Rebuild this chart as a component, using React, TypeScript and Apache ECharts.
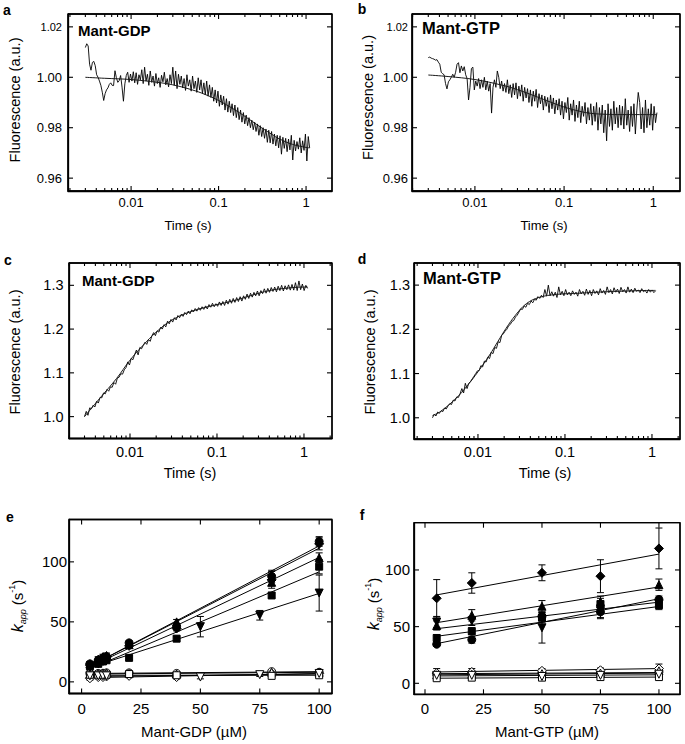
import React, { useEffect, useRef } from "react";
import * as echarts from "echarts";

const FONT = "'Liberation Sans', Arial, Helvetica, sans-serif";

// ---------- stopped-flow traces (a-d) ----------
const T_START = 0.003;
const T_END = 1.1;

const A_RAW = [
  1.0118, 1.0133, 1.0124, 1.0052, 1.0028, 1.0059, 1.0063, 1.0046, 1.0010, 1.0000,
  0.9985, 0.9968, 0.9941, 0.9908, 0.9935, 0.9950, 0.9958, 0.9972, 0.9978, 0.9968,
  0.9967, 1.0026, 0.9998, 0.9980, 0.9987, 1.0007, 0.9961, 0.9905, 0.9974, 1.0007,
  1.0020, 0.9980, 1.0013, 0.9985, 1.0022, 0.9978, 1.0018, 0.9972, 1.0010, 0.9990,
  1.0030, 0.9975, 1.0040, 0.9985, 1.0012, 0.9968, 1.0025, 0.9980, 1.0005, 0.9965,
  1.0015, 0.9975, 0.9998, 0.9960, 1.0008, 0.9982, 1.0020, 0.9970, 0.9995, 0.9962,
  1.0010, 0.9975, 1.0040, 0.9968, 1.0025, 0.9955, 1.0012, 0.9972, 1.0005, 0.9958,
  0.9995, 0.9948, 1.0010, 0.9965, 0.9990, 0.9945, 1.0005, 0.9955, 0.9985, 0.9940,
  0.9998, 0.9950, 0.9990, 0.9935, 0.9978, 0.9930, 0.9985, 0.9925, 0.9970, 0.9920,
  0.9960, 0.9905, 0.9950, 0.9898, 0.9945, 0.9885, 0.9930, 0.9890, 0.9925, 0.9870,
  0.9915, 0.9862, 0.9905, 0.9860, 0.9895, 0.9848, 0.9890, 0.9840, 0.9880, 0.9832,
  0.9870, 0.9822, 0.9860, 0.9815, 0.9850, 0.9808, 0.9840, 0.9800, 0.9830, 0.9792,
  0.9822, 0.9785, 0.9815, 0.9770, 0.9808, 0.9765, 0.9800, 0.9758, 0.9795, 0.9742,
  0.9790, 0.9740, 0.9785, 0.9735, 0.9775, 0.9728, 0.9770, 0.9720, 0.9768, 0.9695,
  0.9762, 0.9718, 0.9758, 0.9705, 0.9755, 0.9712, 0.9770, 0.9672, 0.9750, 0.9708,
  0.9745, 0.9715, 0.9760, 0.9700, 0.9748, 0.9710, 0.9775, 0.9668, 0.9765, 0.9720,
];

const B_RAW = [
  1.0078, 1.0080, 1.0076, 1.0074, 1.0072, 1.0068, 1.0070, 1.0060, 1.0052, 1.0020,
  1.0014, 1.0010, 0.9975, 0.9954, 0.9982, 0.9990, 1.0000, 1.0012, 1.0000, 1.0020,
  1.0052, 1.0058, 1.0018, 1.0045, 1.0025, 1.0042, 1.0010, 0.9995, 0.9910, 0.9960,
  1.0035, 1.0040, 0.9950, 0.9985, 0.9965, 0.9995, 0.9955, 0.9990, 0.9960, 1.0000,
  0.9950, 0.9985, 0.9945, 0.9975, 0.9858, 0.9960, 0.9990, 0.9960, 1.0025, 1.0000,
  0.9955, 0.9985, 0.9945, 0.9975, 0.9940, 0.9990, 0.9935, 0.9970, 0.9920, 0.9975,
  0.9930, 0.9978, 0.9915, 0.9965, 0.9925, 0.9970, 0.9905, 0.9960, 0.9918, 0.9955,
  0.9900, 0.9950, 0.9885, 0.9945, 0.9905, 0.9952, 0.9880, 0.9935, 0.9895, 0.9930,
  0.9870, 0.9925, 0.9885, 0.9920, 0.9860, 0.9930, 0.9875, 0.9918, 0.9855, 0.9910,
  0.9870, 0.9915, 0.9850, 0.9905, 0.9835, 0.9900, 0.9860, 0.9920, 0.9830, 0.9895,
  0.9850, 0.9910, 0.9825, 0.9890, 0.9840, 0.9905, 0.9820, 0.9885, 0.9845, 0.9900,
  0.9815, 0.9880, 0.9830, 0.9895, 0.9810, 0.9885, 0.9825, 0.9900, 0.9790, 0.9880,
  0.9815, 0.9890, 0.9780, 0.9870, 0.9748, 0.9895, 0.9805, 0.9875, 0.9790, 0.9905,
  0.9815, 0.9880, 0.9800, 0.9890, 0.9810, 0.9885, 0.9795, 0.9915, 0.9810, 0.9870,
  0.9785, 0.9885, 0.9805, 0.9895, 0.9775, 0.9870, 0.9940, 0.9900, 0.9795, 0.9880,
  0.9780, 0.9910, 0.9800, 0.9875, 0.9810, 0.9895, 0.9790, 0.9885, 0.9820, 0.9860,
];

const C_RAW = [
  1.000, 1.012, 1.003, 1.020, 1.018, 1.026, 1.022, 1.035, 1.031, 1.044,
  1.043, 1.054, 1.052, 1.062, 1.058, 1.068, 1.067, 1.078, 1.074, 1.088,
  1.090, 1.098, 1.097, 1.107, 1.112, 1.125, 1.118, 1.133, 1.130, 1.142,
  1.152, 1.141, 1.158, 1.155, 1.163, 1.170, 1.165, 1.176, 1.172, 1.185,
  1.192, 1.185, 1.196, 1.193, 1.204, 1.200, 1.210, 1.205, 1.218, 1.212,
  1.222, 1.216, 1.226, 1.221, 1.231, 1.226, 1.234, 1.229, 1.238, 1.233,
  1.241, 1.235, 1.244, 1.239, 1.247, 1.241, 1.249, 1.243, 1.251, 1.245,
  1.253, 1.246, 1.256, 1.250, 1.259, 1.251, 1.258, 1.252, 1.262, 1.254,
  1.263, 1.254, 1.266, 1.257, 1.268, 1.259, 1.270, 1.261, 1.272, 1.263,
  1.274, 1.264, 1.276, 1.268, 1.280, 1.270, 1.282, 1.273, 1.284, 1.276,
  1.287, 1.276, 1.288, 1.281, 1.292, 1.282, 1.293, 1.284, 1.295, 1.286,
  1.296, 1.285, 1.298, 1.288, 1.300, 1.287, 1.299, 1.290, 1.301, 1.289,
  1.302, 1.289, 1.306, 1.288, 1.310, 1.290, 1.303, 1.288, 1.300, 1.293,
];

const D_RAW = [
  1.000, 1.008, 1.004, 1.013, 1.010, 1.016, 1.014, 1.022, 1.020, 1.027,
  1.032, 1.030, 1.040, 1.038, 1.047, 1.046, 1.055, 1.066, 1.056, 1.078,
  1.066, 1.078, 1.082, 1.088, 1.094, 1.100, 1.106, 1.107, 1.118, 1.115,
  1.128, 1.126, 1.137, 1.134, 1.148, 1.145, 1.159, 1.157, 1.172, 1.170,
  1.186, 1.190, 1.196, 1.200, 1.208, 1.211, 1.218, 1.220, 1.228, 1.232,
  1.239, 1.246, 1.245, 1.253, 1.250, 1.259, 1.256, 1.264, 1.260, 1.268,
  1.266, 1.274, 1.270, 1.277, 1.272, 1.290, 1.275, 1.300, 1.276, 1.285,
  1.275, 1.284, 1.272, 1.296, 1.278, 1.286, 1.276, 1.290, 1.278, 1.284,
  1.276, 1.287, 1.279, 1.284, 1.275, 1.290, 1.280, 1.286, 1.277, 1.291,
  1.279, 1.288, 1.276, 1.290, 1.281, 1.287, 1.278, 1.292, 1.282, 1.288,
  1.279, 1.296, 1.283, 1.290, 1.280, 1.294, 1.284, 1.291, 1.281, 1.295,
  1.285, 1.290, 1.282, 1.296, 1.284, 1.291, 1.283, 1.293, 1.286, 1.289,
  1.283, 1.292, 1.285, 1.288, 1.282, 1.290, 1.284, 1.289, 1.283, 1.287,
];

const AB_FIT_T = [0.003, 0.005, 0.01, 0.02, 0.03, 0.05, 0.07, 0.1, 0.15, 0.2, 0.3, 0.4, 0.5, 0.7, 1.0, 1.1];
const A_FIT = [1.0, 0.9996, 0.9991, 0.998, 0.997, 0.995, 0.9932, 0.9908, 0.9873, 0.9845, 0.9803, 0.9775, 0.9755, 0.9734, 0.9722, 0.972];
const B_FIT = [1.0009, 1.0003, 0.9991, 0.9969, 0.9951, 0.9922, 0.9902, 0.9882, 0.9865, 0.9857, 0.9853, 0.9852, 0.9852, 0.9852, 0.9852, 0.9852];
const C_FIT_T = [0.003, 0.0045, 0.007, 0.01, 0.014, 0.02, 0.03, 0.05, 0.1, 0.15, 0.25, 0.4, 0.6, 1.0, 1.1];
const C_FIT = [1.0, 1.042, 1.087, 1.129, 1.162, 1.193, 1.22, 1.24, 1.256, 1.264, 1.277, 1.288, 1.293, 1.296, 1.296];
const D_FIT_T = [0.003, 0.0037, 0.0056, 0.0075, 0.01, 0.0136, 0.017, 0.021, 0.027, 0.036, 0.05, 0.08, 0.125, 0.3, 0.6, 1.0, 1.1];
const D_FIT = [1.005, 1.014, 1.044, 1.072, 1.104, 1.142, 1.173, 1.202, 1.232, 1.258, 1.272, 1.279, 1.281, 1.285, 1.287, 1.288, 1.288];

const LOG_MAJOR = [0.01, 0.1, 1];
const LOG_MINOR_MULT = [2, 3, 4, 5, 6, 7, 8, 9];
const AB_Y_TICKS = [0.96, 0.98, 1.0, 1.02];
const CD_Y_TICKS = [1.0, 1.1, 1.2, 1.3];

// ---------- k_app vs concentration (e, f) ----------
const CONC_TICKS = [0, 25, 50, 75, 100];
const KAPP_TICKS = [0, 50, 100];

const E_X = [3.5, 7, 9, 10.5, 20, 40, 80, 100];
const E_X_DOWN = [3.5, 7, 9, 10.5, 50, 75, 100];
const E_FIT_X = [3.5, 100];

const E_CIRCLE = [15, 18, 20, 21, 32.5, 46, 88, 117];
const E_CIRCLE_ERR = [2, 2, 2, 2, 2, 2, 5, 4];
const E_DIAMOND = [14, 17, 19, 20, 30, 44.5, 85, 115];
const E_DIAMOND_ERR = [2, 2, 2, 2, 2, 2, 7, 5];
const E_UP = [15, 19, 21, 22, 31, 50, 83, 103.5];
const E_UP_ERR = [2, 2, 2, 2, 2, 2, 3, 4];
const E_SQUARE = [13, 15, 17, 18, 20, 36, 72, 96];
const E_SQUARE_ERR = [2, 2, 2, 2, 2, 2, 2, 6];
const E_DOWN = [12, 15, 17, 18, 46, 55.5, 74];
const E_DOWN_ERR = [2, 2, 2, 2, 8.5, 4, 15];
const E_OCIRCLE = [7, 7, 7, 7.5, 7.5, 7, 8.5, 8];
const E_ODIAMOND = [3, 4, 4, 4.5, 5, 4, 7, 7];
const E_OUP = [6.5, 7, 7.5, 7.5, 7, 6.5, 8, 8];
const E_OSQUARE = [6, 6, 6, 6, 6.5, 5.5, 5, 5.5];
const E_ODOWN = [5, 5, 5, 5, 4, 6, 7];
const E_OPEN_ERR = [1.5, 1.5, 1.5, 1.5, 1.5, 1.5, 1.5, 1.5];

const E_FIT_CIRCLE = [13, 113.3];
const E_FIT_DIAMOND = [13, 111.4];
const E_FIT_UP = [12.5, 103.7];
const E_FIT_SQUARE = [11, 91.7];
const E_FIT_DOWN = [12, 73.7];
const E_FIT_OCIRCLE = [7, 8.5];
const E_FIT_ODIAMOND = [3.5, 7];
const E_FIT_OUP = [6.5, 8];
const E_FIT_OSQUARE = [5.5, 5.5];
const E_FIT_ODOWN = [4.5, 6.5];

const F_X = [5, 20, 50, 75, 100];
const F_FIT_X = [5, 100];
const F_DIAMOND = [75, 88.5, 97.5, 94.5, 119];
const F_DIAMOND_ERR = [16.5, 9, 7, 14.5, 18];
const F_UP = [51, 60, 68, 72, 87];
const F_UP_ERR = [4, 5, 5, 5, 5];
const F_DOWN = [54, 55, 49, 64, 70];
const F_DOWN_ERR = [5, 4, 13.5, 6, 4];
const F_SQUARE = [40, 46, 58, 70, 69];
const F_SQUARE_ERR = [3, 3, 4, 5, 4];
const F_CIRCLE = [34.5, 38.5, 59, 63, 74];
const F_CIRCLE_ERR = [2, 3, 4, 6, 3];
const F_ODIAMOND = [9, 10, 11, 11.5, 13];
const F_ODIAMOND_ERR = [4, 3, 2, 2, 4];
const F_OCIRCLE = [8, 8.5, 9, 9, 10];
const F_OUP = [7.5, 8, 8.5, 9, 11];
const F_ODOWN = [7, 7, 6, 7, 8];
const F_OSQUARE = [4.5, 5, 5, 5.5, 5.5];
const F_OPEN_ERR = [2, 2, 2, 2, 2];

const F_FIT_DIAMOND = [78, 114];
const F_FIT_UP = [53.5, 85];
const F_FIT_DOWN = [48.2, 71.6];
const F_FIT_SQUARE = [41.5, 67.8];
const F_FIT_CIRCLE = [35, 74.6];
const F_FIT_ODIAMOND = [10, 13];
const F_FIT_OCIRCLE = [8.5, 9.5];
const F_FIT_OUP = [7.5, 9];
const F_FIT_ODOWN = [6.5, 7.5];
const F_FIT_OSQUARE = [4.5, 5.5];

// ---------- layout ----------
const GRIDS = [
  { left: 68, top: 14, width: 264, height: 177 },
  { left: 412, top: 14, width: 268, height: 177 },
  { left: 69, top: 263, width: 263, height: 175.5 },
  { left: 414, top: 263, width: 266, height: 176 },
  { left: 69, top: 519.5, width: 263, height: 174 },
  { left: 414, top: 522.7, width: 266, height: 171.6 },
];

// ---------- helpers ----------
function logTimes(n: number): number[] {
  const l0 = Math.log10(T_START);
  const l1 = Math.log10(T_END);
  return Array.from({ length: n }, (_, i) => Math.pow(10, l0 + ((l1 - l0) * i) / (n - 1)));
}
const zip = (xs: number[], ys: number[]) => ys.map((y, i) => [xs[i], y]);
const fmtLog = (v: number) => (v >= 1 ? String(Math.round(v)) : String(+v.toPrecision(1)));

function minorLog(min: number, max: number): number[] {
  const out: number[] = [];
  [0.001, 0.01, 0.1, 1].forEach((d) => LOG_MINOR_MULT.forEach((m) => {
    const v = +(d * m).toPrecision(2);
    if (v > min && v < max) out.push(v);
  }));
  return out;
}

function mkAxis(kind: "x" | "y", type: string, g: number, min: number, max: number, ticks: number[], fs: number, margin: number, fmt: any, rich?: any) {
  return {
    type, gridIndex: g, min, max, position: kind === "x" ? "bottom" : "left",
    splitLine: { show: false },
    axisLine: { show: true, onZero: false, lineStyle: { color: "#000", width: 1.3 } },
    axisTick: { show: false },
    axisLabel: { show: true, customValues: ticks, margin, fontSize: fs, fontFamily: FONT, color: "#000", formatter: fmt, rich },
  };
}

// vertical segment: [x, y1, y2, width]
const vRender = (params: any, api: any) => {
  const x = api.value(0);
  const p1 = api.coord([x, api.value(1)]);
  const p2 = api.coord([x, api.value(2)]);
  const style = { stroke: "#000", lineWidth: api.value(3) };
  return { type: "group", children: [{ type: "line", shape: { x1: p1[0], y1: p1[1], x2: p2[0], y2: p2[1] }, style }] };
};
// horizontal segment: [x1, x2, y, width]
const hRender = (params: any, api: any) => {
  const y = api.value(2);
  const p1 = api.coord([api.value(0), y]);
  const p2 = api.coord([api.value(1), y]);
  const style = { stroke: "#000", lineWidth: api.value(3) };
  return { type: "group", children: [{ type: "line", shape: { x1: p1[0], y1: p1[1], x2: p2[0], y2: p2[1] }, style }] };
};

// Box + inward ticks on four sides, drawn like the error bars through the axes' scales.
function boxSeries(xi: number, yi: number, g: number, isLog: boolean, xr: number[], yr: number[], xMajor: number[], xMinor: number[], yMajor: number[]) {
  const G = GRIDS[g];
  const [x0, x1] = xr;
  const [y0, y1] = yr;
  const dy = (y1 - y0) / G.height;
  const xOff = (px: number, fromLeft: boolean) => {
    if (isLog) {
      const f = Math.pow(x1 / x0, px / G.width);
      return fromLeft ? x0 * f : x1 / f;
    }
    const d = ((x1 - x0) / G.width) * px;
    return fromLeft ? x0 + d : x1 - d;
  };
  const vItems: number[][] = [[x0, y0, y1, 1.3], [x1, y0, y1, 1.3]];
  const hItems: number[][] = [[x0, x1, y0, 1.3], [x0, x1, y1, 1.3]];
  const addX = (vals: number[], len: number) => vals.forEach((v) => {
    vItems.push([v, y0, y0 + len * dy, 1.1], [v, y1 - len * dy, y1, 1.1]);
  });
  addX(xMajor, 5);
  addX(xMinor, 3);
  yMajor.forEach((v) => {
    hItems.push([x0, xOff(5, true), v, 1.1], [xOff(5, false), x1, v, 1.1]);
  });
  return [
    { type: "custom", xAxisIndex: xi, yAxisIndex: yi, renderItem: vRender, encode: { x: 0, y: [1, 2] }, data: vItems, z: 3 },
    { type: "custom", xAxisIndex: xi, yAxisIndex: yi, renderItem: hRender, encode: { x: [0, 1], y: 2 }, data: hItems, z: 3 },
  ];
}

const errRender = (params: any, api: any) => {
  const x = api.value(0);
  const lo = api.coord([x, api.value(1)]);
  const hi = api.coord([x, api.value(2)]);
  const w = 3.5;
  const style = { stroke: "#000", lineWidth: 1 };
  return {
    type: "group",
    children: [
      { type: "line", shape: { x1: lo[0], y1: lo[1], x2: hi[0], y2: hi[1] }, style },
      { type: "line", shape: { x1: lo[0] - w, y1: lo[1], x2: lo[0] + w, y2: lo[1] }, style },
      { type: "line", shape: { x1: hi[0] - w, y1: hi[1], x2: hi[0] + w, y2: hi[1] }, style },
    ],
  };
};

function buildOption() {
  const grids = GRIDS.map((g) => ({ ...g, containLabel: false, show: true, borderColor: "#000", borderWidth: 1.3, backgroundColor: "rgba(0,0,0,0)" }));

  const xAxis: any[] = [];
  const yAxis: any[] = [];
  const series: any[] = [];

  const abFmt = (v: number) => (Math.abs(v - 1.02) < 1e-6 ? "{s|1.02}" : v.toFixed(2));
  const cdFmt = (v: number) => v.toFixed(1);
  const logPanels = [
    { raw: A_RAW, fitT: AB_FIT_T, fit: A_FIT, xMin: 0.0019, xMax: 1.98, yMin: 0.9549, yMax: 1.0251, yTicks: AB_Y_TICKS, fs: 13, xm: 5, ym: 6, yFmt: abFmt },
    { raw: B_RAW, fitT: AB_FIT_T, fit: B_FIT, xMin: 0.00197, xMax: 1.995, yMin: 0.9549, yMax: 1.0251, yTicks: AB_Y_TICKS, fs: 13, xm: 5, ym: 4, yFmt: abFmt },
    { raw: C_RAW, fitT: C_FIT_T, fit: C_FIT, xMin: 0.00199, xMax: 2.1, yMin: 0.95, yMax: 1.351, yTicks: CD_Y_TICKS, fs: 14.5, xm: 5.5, ym: 5.5, yFmt: cdFmt },
    { raw: D_RAW, fitT: D_FIT_T, fit: D_FIT, xMin: 0.00184, xMax: 2.1, yMin: 0.952, yMax: 1.35, yTicks: CD_Y_TICKS, fs: 14.5, xm: 5.5, ym: 4, yFmt: cdFmt },
  ];

  logPanels.forEach((p, g) => {
    const xi = xAxis.length;
    const yi = yAxis.length;
    xAxis.push(mkAxis("x", "log", g, p.xMin, p.xMax, LOG_MAJOR, p.fs, p.xm, (v: number) => fmtLog(v)));
    yAxis.push(mkAxis("y", "value", g, p.yMin, p.yMax, p.yTicks, p.fs, p.ym, p.yFmt, { s: { fontSize: 11, fontFamily: FONT, color: "#000" } }));
    series.push({
      type: "line", xAxisIndex: xi, yAxisIndex: yi, data: zip(logTimes(p.raw.length), p.raw),
      showSymbol: false, symbol: "none", lineStyle: { color: "#000", width: 0.9 }, z: 2,
    });
    series.push({
      type: "line", xAxisIndex: xi, yAxisIndex: yi, data: zip(p.fitT, p.fit), smooth: 0.4,
      showSymbol: false, symbol: "none", lineStyle: { color: "#1a1a1a", width: 1 }, z: 3,
    });
    series.push(...boxSeries(xi, yi, g, true, [p.xMin, p.xMax], [p.yMin, p.yMax], LOG_MAJOR, minorLog(p.xMin, p.xMax), p.yTicks));
  });

  type Grp = { x: number[]; v: number[]; err: number[]; fit: number[]; sym: string; rot?: number; size: number; filled: boolean };

  const kinPanels = [
    {
      g: 4, xMin: -5.3, xMax: 105.4, yMin: -9.7, yMax: 135.3, fitX: E_FIT_X, xm: 7, ym: 2,
      groups: [
        { x: E_X, v: E_OCIRCLE, err: E_OPEN_ERR, fit: E_FIT_OCIRCLE, sym: "circle", size: 8, filled: false },
        { x: E_X, v: E_ODIAMOND, err: E_OPEN_ERR, fit: E_FIT_ODIAMOND, sym: "diamond", size: 9, filled: false },
        { x: E_X, v: E_OUP, err: E_OPEN_ERR, fit: E_FIT_OUP, sym: "triangle", size: 8, filled: false },
        { x: E_X, v: E_OSQUARE, err: E_OPEN_ERR, fit: E_FIT_OSQUARE, sym: "rect", size: 7, filled: false },
        { x: E_X_DOWN, v: E_ODOWN, err: E_OPEN_ERR, fit: E_FIT_ODOWN, sym: "triangle", rot: 180, size: 8, filled: false },
        { x: E_X_DOWN, v: E_DOWN, err: E_DOWN_ERR, fit: E_FIT_DOWN, sym: "triangle", rot: 180, size: 8, filled: true },
        { x: E_X, v: E_SQUARE, err: E_SQUARE_ERR, fit: E_FIT_SQUARE, sym: "rect", size: 7, filled: true },
        { x: E_X, v: E_UP, err: E_UP_ERR, fit: E_FIT_UP, sym: "triangle", size: 8, filled: true },
        { x: E_X, v: E_DIAMOND, err: E_DIAMOND_ERR, fit: E_FIT_DIAMOND, sym: "diamond", size: 9, filled: true },
        { x: E_X, v: E_CIRCLE, err: E_CIRCLE_ERR, fit: E_FIT_CIRCLE, sym: "circle", size: 8, filled: true },
      ] as Grp[],
    },
    {
      g: 5, xMin: -4.7, xMax: 109, yMin: -9.7, yMax: 141.7, fitX: F_FIT_X, xm: 6.5, ym: 4,
      groups: [
        { x: F_X, v: F_OCIRCLE, err: F_OPEN_ERR, fit: F_FIT_OCIRCLE, sym: "circle", size: 8, filled: false },
        { x: F_X, v: F_ODIAMOND, err: F_ODIAMOND_ERR, fit: F_FIT_ODIAMOND, sym: "diamond", size: 9, filled: false },
        { x: F_X, v: F_OUP, err: F_OPEN_ERR, fit: F_FIT_OUP, sym: "triangle", size: 8, filled: false },
        { x: F_X, v: F_OSQUARE, err: F_OPEN_ERR, fit: F_FIT_OSQUARE, sym: "rect", size: 7, filled: false },
        { x: F_X, v: F_ODOWN, err: F_OPEN_ERR, fit: F_FIT_ODOWN, sym: "triangle", rot: 180, size: 8, filled: false },
        { x: F_X, v: F_DOWN, err: F_DOWN_ERR, fit: F_FIT_DOWN, sym: "triangle", rot: 180, size: 8, filled: true },
        { x: F_X, v: F_SQUARE, err: F_SQUARE_ERR, fit: F_FIT_SQUARE, sym: "rect", size: 7, filled: true },
        { x: F_X, v: F_UP, err: F_UP_ERR, fit: F_FIT_UP, sym: "triangle", size: 8, filled: true },
        { x: F_X, v: F_CIRCLE, err: F_CIRCLE_ERR, fit: F_FIT_CIRCLE, sym: "circle", size: 8, filled: true },
        { x: F_X, v: F_DIAMOND, err: F_DIAMOND_ERR, fit: F_FIT_DIAMOND, sym: "diamond", size: 9, filled: true },
      ] as Grp[],
    },
  ];

  kinPanels.forEach((p) => {
    const xi = xAxis.length;
    const yi = yAxis.length;
    xAxis.push(mkAxis("x", "value", p.g, p.xMin, p.xMax, CONC_TICKS, 15, p.xm, (v: number) => String(v)));
    yAxis.push(mkAxis("y", "value", p.g, p.yMin, p.yMax, KAPP_TICKS, 15, p.ym, (v: number) => String(v)));
    p.groups.forEach((gr) => {
      series.push({
        type: "line", xAxisIndex: xi, yAxisIndex: yi, data: zip(p.fitX, gr.fit),
        showSymbol: false, symbol: "none", lineStyle: { color: "#000", width: 1 }, z: 2,
      });
      series.push({
        type: "custom", xAxisIndex: xi, yAxisIndex: yi, renderItem: errRender,
        encode: { x: 0, y: [1, 2] },
        data: gr.v.map((v, i) => [gr.x[i], v - gr.err[i], v + gr.err[i]]), z: 3,
      });
      series.push({
        type: "scatter", xAxisIndex: xi, yAxisIndex: yi, data: zip(gr.x, gr.v),
        symbol: gr.sym, symbolRotate: gr.rot || 0, symbolSize: gr.size,
        itemStyle: { color: gr.filled ? "#000" : "#fff", borderColor: "#000", borderWidth: 1, opacity: 1 },
        z: gr.filled ? 5 : 4,
      });
    });
    series.push(...boxSeries(xi, yi, p.g, false, [p.xMin, p.xMax], [p.yMin, p.yMax], CONC_TICKS, [], KAPP_TICKS));
  });

  const txt = (x: number, y: number, text: string, fs: number, extra: any = {}, rot = 0) => ({
    type: "text", x, y, rotation: rot, z: 100,
    style: { text, fontSize: fs, fontFamily: FONT, fill: "#000", align: "center", verticalAlign: "middle", ...extra },
  });
  const bold = { fontWeight: "bold" };
  const left = { align: "left" };
  const R = Math.PI / 2;
  const kapp = {
    text: "{k|k}{sub|app} {n|(s}{sup|-1}{n|)}",
    rich: {
      k: { fontSize: 16, fontStyle: "italic", fontFamily: FONT, lineHeight: 20 },
      sub: { fontSize: 9, fontStyle: "italic", fontFamily: FONT, verticalAlign: "bottom" },
      n: { fontSize: 15, fontFamily: FONT, lineHeight: 20 },
      sup: { fontSize: 9, fontFamily: FONT, verticalAlign: "top" },
    },
  };

  const graphic = [
    txt(7, 10, "a", 14, bold), txt(362, 9, "b", 14, bold), txt(8, 260, "c", 14, bold),
    txt(362, 259, "d", 14, bold), txt(10, 517, "e", 14, bold), txt(362, 515, "f", 14, bold),
    txt(78, 30, "Mant-GDP", 15, { ...bold, ...left }),
    txt(422, 28, "Mant-GTP", 16.5, { ...bold, ...left }),
    txt(82, 280, "Mant-GDP", 15, { ...bold, ...left }),
    txt(423, 278, "Mant-GTP", 16.5, { ...bold, ...left }),
    txt(15, 100, "Fluorescence (a.u.)", 14.5, {}, R),
    txt(368, 97.5, "Fluorescence (a.u.)", 14.5, {}, R),
    txt(15, 352, "Fluorescence (a.u.)", 14.5, {}, R),
    txt(370, 352, "Fluorescence (a.u.)", 14.5, {}, R),
    txt(188, 225, "Time (s)", 13),
    txt(544, 225, "Time (s)", 13),
    txt(190, 473, "Time (s)", 14.5),
    txt(545, 473, "Time (s)", 14.5),
    txt(194, 731, "Mant-GDP (µM)", 15),
    txt(547, 731, "Mant-GTP (µM)", 15),
    txt(17, 606, "", 15, kapp, R),
    txt(373, 604, "", 15, kapp, R),
  ];

  return {
    animation: false,
    backgroundColor: "#fff",
    textStyle: { fontFamily: FONT },
    grid: grids,
    xAxis,
    yAxis,
    series,
    graphic,
  };
}

export default function App() {
  const ref = useRef<HTMLDivElement>(null);
  useEffect(() => {
    document.body.style.margin = "0";
    if (!ref.current) return;
    const chart = echarts.init(ref.current, null, { renderer: "svg" });
    chart.setOption(buildOption() as any);
    return () => chart.dispose();
  }, []);
  return <div ref={ref} style={{ width: 685, height: 744, background: "#fff" }} />;
}
